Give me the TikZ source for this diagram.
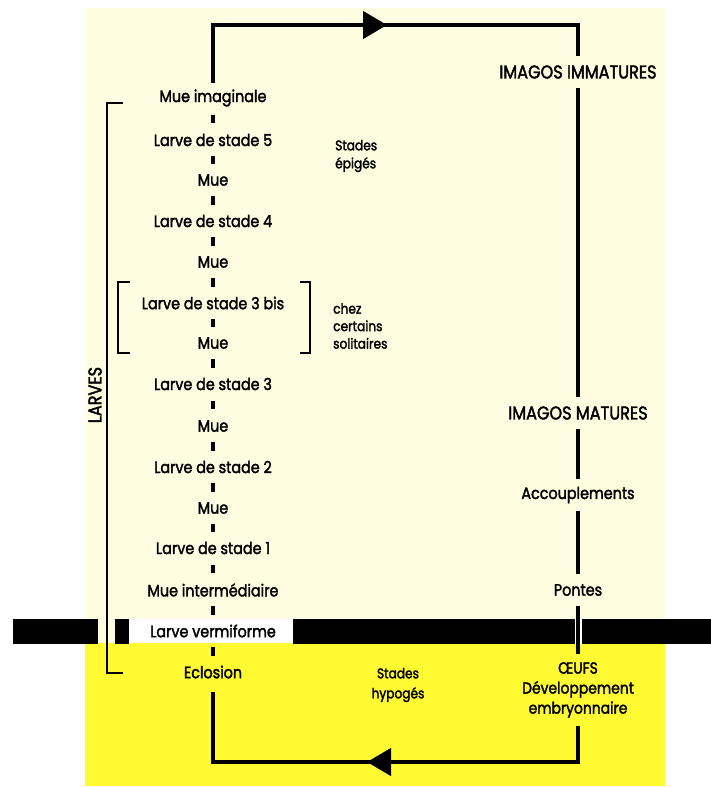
\documentclass[tikz,border=0pt]{standalone}
\usepackage{fontspec}
\setmainfont{Poppins}[FakeStretch=0.87, FakeBold=2]
\usetikzlibrary{arrows.meta,calc}
\definecolor{paleyellow}{RGB}{254,253,226}
\definecolor{brightyellow}{RGB}{255,250,50}
\begin{document}
\begin{tikzpicture}[x=1pt,y=-1pt,
  stage/.style={font=\fontsize{16.5}{18}\selectfont, inner sep=0pt, minimum height=30pt},
  rightlbl/.style={font=\fontsize{16.5}{18}\selectfont, inner sep=0pt, minimum height=32pt},
  capslbl/.style={rightlbl, font=\fontsize{18.5}{20}\selectfont},
  sidetext/.style={font=\fontsize{14}{18}\selectfont, inner sep=0pt, align=left, anchor=west},
  loopline/.style={line width=4.5pt},
  dashc/.style={line width=3.3pt},
  brk/.style={line width=2.5pt},
  bigtip/.style={-{Triangle[length=24pt,width=27pt]}}]
\useasboundingbox (0,0) rectangle (711,787);
% backgrounds
\fill[paleyellow] (85,8) rectangle (665,643);
\fill[brightyellow] (85,643) rectangle (665,786);
% ground bar
\fill[black] (13,619) rectangle (98,644);
\fill[black] (115,619) rectangle (129,644);
\fill[white] (129,619) rectangle (293,643);
\fill[black] (293,619) rectangle (711,644);
% left stack
\node[stage] (mueimag) at (213,98) {Mue imaginale};
\node[stage] (l5) at (213,140) {Larve de stade 5};
\node[stage] (m5) at (213,180) {Mue};
\node[stage] (l4) at (213,221) {Larve de stade 4};
\node[stage] (m4) at (213,262) {Mue};
\node[stage] (l3b) at (213,303) {Larve de stade 3 bis};
\node[stage] (m3b) at (213,343) {Mue};
\node[stage] (l3) at (213,384) {Larve de stade 3};
\node[stage] (m3) at (213,426) {Mue};
\node[stage] (l2) at (213,467) {Larve de stade 2};
\node[stage] (m2) at (213,508) {Mue};
\node[stage] (l1) at (213,548) {Larve de stade 1};
\node[stage] (mint) at (213,590) {Mue intermédiaire};
\node[stage] (verm) at (213,631) {Larve vermiforme};
\node[stage, minimum height=40pt] (eclo) at (213,672) {Eclosion};
\foreach \a/\b in {mueimag/l5,l5/m5,m5/l4,l4/m4,m4/l3b,l3b/m3b,m3b/l3,l3/m3,m3/l2,l2/m2,m2/l1,l1/mint,mint/verm,verm/eclo}
  \draw[dashc] ($(\a)!0.4!(\b)$) -- ($(\a)!0.6!(\b)$);
% right column
\node[capslbl] (imm) at (578,72) {IMAGOS IMMATURES};
\node[capslbl] (mat) at (578,413) {IMAGOS MATURES};
\node[rightlbl] (acc) at (578,495) {Accouplements};
\node[rightlbl] (pon) at (578,590) {Pontes};
\node[font=\fontsize{16}{20}\selectfont, inner xsep=0pt, inner ysep=8pt, align=center] (oeufs) at (578,690) {ŒUFS\\Développement\\embryonnaire};
% loop corners
\coordinate (tl) at (213,25);
\coordinate (tr) at (578,25);
\coordinate (arrtop) at (387,25);
\coordinate (br) at (578,762);
\coordinate (bl) at (213,762);
\coordinate (arrbot) at (367,762);
\draw[loopline] (mueimag.north) -- (tl) -- (tr) -- (imm.north);
\draw[loopline,bigtip] (tl) -- (arrtop);
\draw[loopline] (imm.south) -- (mat.north);
\draw[loopline] (mat.south) -- (acc.north);
\draw[loopline] (acc.south) -- (pon.north);
\begin{scope}
  \clip (293,619) rectangle (711,644);
  \draw[white, line width=7pt] (pon.south) -- (oeufs.north);
\end{scope}
\draw[loopline] (pon.south) -- (oeufs.north);
\draw[loopline] (oeufs.south) -- (br) -- (bl) -- (eclo.south);
\draw[loopline,bigtip] (br) -- (arrbot);
% brackets
\draw[brk] (123,103) -- (107,103) -- (107,673) -- (123,673);
\node[font=\fontsize{18.5}{20}\selectfont, rotate=90, inner sep=0pt] (larves) at (95,395) {LARVES};
\draw[brk] (130,282) -- (118,282) -- (118,353) -- (130,353);
\draw[brk] (300,282) -- (310,282) -- (310,353) -- (300,353);
% side texts
\node[sidetext] (epiges) at (335,156) {Stades\\épigés};
\node[sidetext, font=\fontsize{14}{17.5}\selectfont] (chez) at (333,326) {chez\\certains\\solitaires};
\node[font=\fontsize{14}{20}\selectfont, inner sep=0pt, align=center] (hypo) at (398,685) {Stades\\hypogés};
\end{tikzpicture}
\end{document}
